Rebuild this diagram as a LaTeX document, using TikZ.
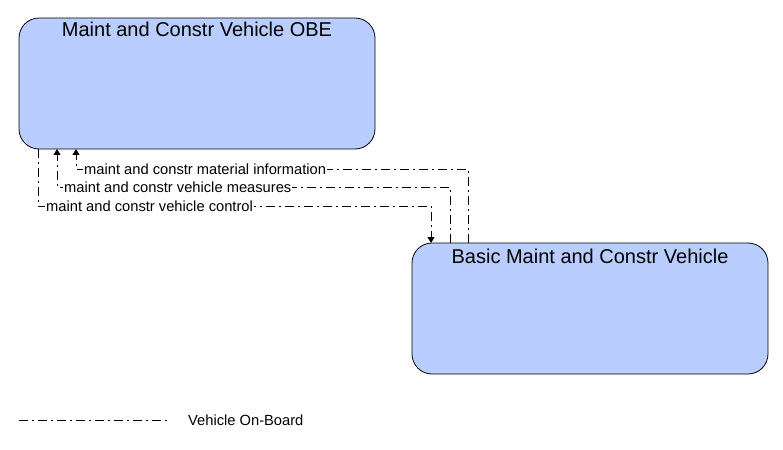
\documentclass[tikz,border=0pt]{standalone}
\usepackage{fontspec}
\setmainfont{Liberation Sans}
\usetikzlibrary{arrows.meta}
\definecolor{boxblue}{RGB}{185,205,255}
\tikzset{
  elem/.style={draw=black, fill=boxblue, rounded corners=20pt, line width=0.8pt},
  title/.style={font=\fontsize{20}{24}\selectfont, anchor=base, inner sep=0pt},
  flow/.style={draw=black, line width=0.8pt, dash pattern=on 9pt off 4pt on 2pt off 4pt},
  arr/.style={-{Triangle[width=7pt,length=6pt]}},
  flabel/.style={font=\fontsize{14.7}{17}\selectfont, fill=white, anchor=west, inner sep=1pt},
  legtext/.style={font=\fontsize{14.7}{17}\selectfont, anchor=west, inner sep=0pt}
}
\begin{document}
\begin{tikzpicture}[x=1pt,y=-1pt]
\useasboundingbox (0,0) rectangle (783,449);
\path[elem] (19,18) rectangle (375,149);
\node[title] (t1) at (197,37) {Maint and Constr Vehicle OBE};
\path[elem] (412,243) rectangle (768,374);
\node[title] (t2) at (590,263) {Basic Maint and Constr Vehicle};
% flows
\draw[flow,arr] (468,243) -- (468,169) -- (76,169) -- (76,149);
\draw[flow,arr] (450,243) -- (450,187) -- (57,187) -- (57,149);
\draw[flow,arr] (38,149) -- (38,206) -- (431,206) -- (431,243);
\node[flabel] (l1) at (83,169) {maint and constr material information};
\node[flabel] (l2) at (63,187) {maint and constr vehicle measures};
\node[flabel] (l3) at (45,206) {maint and constr vehicle control};
% legend
\coordinate (la) at (19,420);
\coordinate (lb) at (168,420);
\draw[flow] (la) -- (lb);
\node[legtext] (lt) at (188,420) {Vehicle On-Board};
\end{tikzpicture}
\end{document}
